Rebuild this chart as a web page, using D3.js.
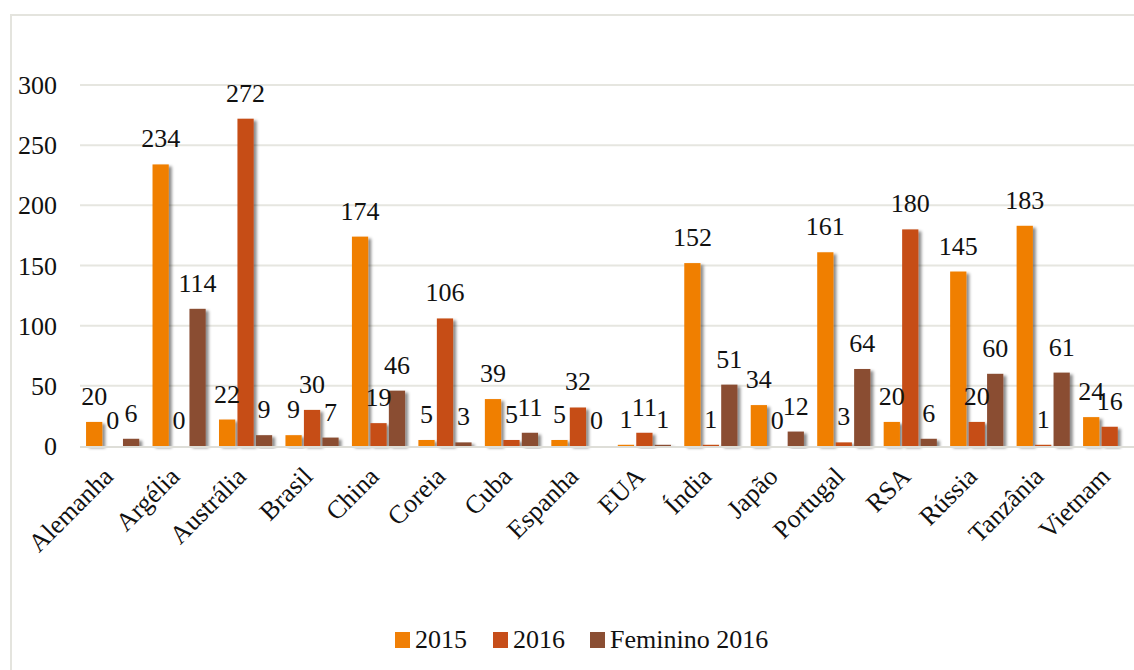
<!DOCTYPE html>
<html>
<head>
<meta charset="utf-8">
<script src="https://cdn.jsdelivr.net/npm/d3@7"></script>
<style>
  body { margin: 0; background: #fff; }
  svg text { font-family: "Liberation Serif", "Times New Roman", serif; fill: #111; }
</style>
</head>
<body>
<svg id="chart" width="1134" height="670"></svg>
<script>
// data
const countries = ["Alemanha", "Argélia", "Austrália", "Brasil", "China", "Coreia", "Cuba", "Espanha",
  "EUA", "Índia", "Japão", "Portugal", "RSA", "Rússia", "Tanzânia", "Vietnam"];
const seriesNames = ["2015", "2016", "Feminino 2016"];
const v2015 = [20, 234, 22, 9, 174, 5, 39, 5, 1, 152, 34, 161, 20, 145, 183, 24];
const v2016 = [0, 0, 272, 30, 19, 106, 5, 32, 11, 1, 0, 3, 180, 20, 1, 16];
const vFem2016 = [6, 114, 9, 7, 46, 3, 11, 0, 1, 51, 12, 64, 6, 60, 61, null];
const yTicks = [0, 50, 100, 150, 200, 250, 300];
const colors = ["#F07F06", "#C64D19", "#8A4E33"];

const values = [v2015, v2016, vFem2016];
const serif = "'Liberation Serif', 'Times New Roman', serif";

const svg = d3.select("#chart");

// shadow filter
const defs = svg.append("defs");
defs.append("filter").attr("id", "shadow")
  .attr("x", "-30%").attr("y", "-10%").attr("width", "180%").attr("height", "130%")
  .append("feDropShadow")
    .attr("dx", 3).attr("dy", 2).attr("stdDeviation", 1.8)
    .attr("flood-color", "#000").attr("flood-opacity", 0.45);

// outer border (cropped on right and bottom)
svg.append("rect")
  .attr("x", 11).attr("y", 15).attr("width", 1200).attr("height", 700)
  .attr("fill", "none").attr("stroke", "#e4e4de").attr("stroke-width", 2);

const x = d3.scaleBand()
  .domain(countries)
  .range([79.4, 1142.9])
  .paddingInner(0.2)
  .paddingOuter(0.1);

const xs = d3.scaleBand()
  .domain(seriesNames)
  .range([0, x.bandwidth()])
  .paddingInner(0.12);

const y = d3.scaleLinear().domain([0, 300]).range([446, 85]);

// grid lines
svg.append("g").selectAll("line")
  .data(yTicks.filter(d => d > 0))
  .join("line")
    .attr("x1", 80).attr("x2", 1134)
    .attr("y1", d => y(d)).attr("y2", d => y(d))
    .attr("stroke", "#e6e6e0").attr("stroke-width", 2);

// y axis labels
const yAxis = svg.append("g")
  .attr("transform", "translate(57,0)")
  .call(d3.axisLeft(y).tickValues(yTicks).tickSize(0).tickPadding(0));
yAxis.attr("font-family", serif);
yAxis.select(".domain").remove();
yAxis.selectAll("text")
  .style("font-family", serif)
  .style("font-size", "26px")
  .attr("fill", "#111")
  .attr("dy", "0.33em");

// bars
const groups = svg.append("g").selectAll("g")
  .data(countries)
  .join("g")
    .attr("transform", d => `translate(${x(d)},0)`);

groups.each(function(c, i) {
  const g = d3.select(this);
  const rows = seriesNames.map((s, k) => ({ s, k, v: values[k][i] })).filter(r => r.v !== null);

  g.selectAll("rect")
    .data(rows)
    .join("rect")
      .attr("x", r => xs(r.s))
      .attr("width", xs.bandwidth())
      .attr("y", r => y(r.v))
      .attr("height", r => Math.max(0, y(0) - y(r.v)) || 0.01)
      .attr("fill", r => colors[r.k])
      .attr("filter", "url(#shadow)");

  g.selectAll("text")
    .data(rows)
    .join("text")
      .attr("x", r => xs(r.s) + xs.bandwidth() / 2)
      .attr("y", r => y(r.v) - 17)
      .attr("text-anchor", "middle")
      .style("font-family", serif)
      .style("font-size", "26px")
      .text(r => r.v);
});

// baseline
svg.append("line")
  .attr("x1", 80).attr("x2", 1134)
  .attr("y1", y(0) + 1).attr("y2", y(0) + 1)
  .attr("stroke", "#deded8").attr("stroke-width", 2);

// x labels
svg.append("g").selectAll("text")
  .data(countries)
  .join("text")
    .attr("transform", d => `translate(${x(d) + x.bandwidth() / 2 + 2},478) rotate(-45)`)
    .attr("text-anchor", "end")
    .style("font-family", serif)
    .style("font-size", "26px")
    .text(d => d);

// legend
const legendItems = [
  { name: "2015", sx: 395, tx: 415 },
  { name: "2016", sx: 493, tx: 513 },
  { name: "Feminino 2016", sx: 590, tx: 610 }
];
const legend = svg.append("g");
legend.selectAll("rect")
  .data(legendItems)
  .join("rect")
    .attr("x", d => d.sx).attr("y", 632)
    .attr("width", 15).attr("height", 16)
    .attr("fill", (d, i) => colors[i]);
legend.selectAll("text")
  .data(legendItems)
  .join("text")
    .attr("x", d => d.tx).attr("y", 648)
    .style("font-family", serif)
    .style("font-size", "26px")
    .text(d => d.name);
</script>
</body>
</html>
